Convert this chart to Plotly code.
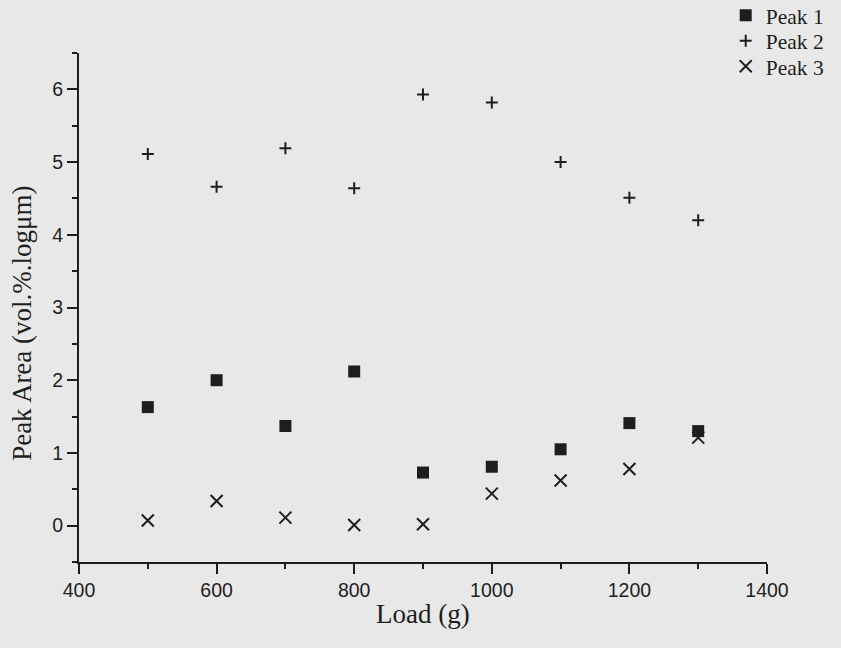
import plotly.graph_objects as go

# Applied load (g)
load = [500, 600, 700, 800, 900, 1000, 1100, 1200, 1300]

# Peak areas (vol.%.log µm) for the three fitted peaks
peak1 = [1.63, 2.00, 1.37, 2.12, 0.73, 0.81, 1.05, 1.41, 1.30]
peak2 = [5.11, 4.66, 5.19, 4.64, 5.93, 5.82, 5.00, 4.51, 4.20]
peak3 = [0.07, 0.34, 0.11, 0.01, 0.02, 0.44, 0.62, 0.78, 1.21]

x_ticks = [400, 600, 800, 1000, 1200, 1400]
y_ticks = [0, 1, 2, 3, 4, 5, 6]

ink = "#1e1e1e"
bg = "#e8e8e8"
serif = "Liberation Serif, Times New Roman, serif"
sans = "Liberation Sans, Arial, sans-serif"

fig = go.Figure()

fig.add_trace(go.Scatter(
    x=load, y=peak1, mode="markers", name="Peak 1", legend="legend",
    marker=dict(symbol="square", size=12, color=ink, line=dict(width=0)),
    cliponaxis=False,
))
fig.add_trace(go.Scatter(
    x=load, y=peak2, mode="markers", name="Peak 2", legend="legend2",
    marker=dict(symbol="cross-thin", size=8.5, color=ink,
                line=dict(width=2, color=ink)),
    cliponaxis=False,
))
fig.add_trace(go.Scatter(
    x=load, y=peak3, mode="markers", name="Peak 3", legend="legend3",
    marker=dict(symbol="x-thin", size=12, color=ink,
                line=dict(width=2, color=ink)),
    cliponaxis=False,
))

legend_style = dict(
    xanchor="left", yanchor="middle", x=0.94,
    bgcolor="rgba(0,0,0,0)", borderwidth=0,
    font=dict(family=serif, size=21.5, color=ink),
)

fig.update_layout(
    width=841, height=648,
    margin=dict(l=79, r=74, t=53, b=86, autoexpand=False),
    paper_bgcolor=bg, plot_bgcolor=bg,
    showlegend=True,
    legend=dict(legend_style, y=1.074),
    legend2=dict(legend_style, y=1.024),
    legend3=dict(legend_style, y=0.974),
    xaxis=dict(
        range=[400, 1400], tickvals=x_ticks, ticktext=[str(v) for v in x_ticks],
        showgrid=False, zeroline=False,
        showline=True, linecolor=ink, linewidth=2,
        ticks="outside", ticklen=10, tickwidth=2, tickcolor=ink,
        minor=dict(dtick=100, tick0=400, ticks="outside", ticklen=5,
                   tickwidth=2, tickcolor=ink),
        tickfont=dict(family=sans, size=19.5, color=ink),
    ),
    yaxis=dict(
        range=[-0.5, 6.5], tickvals=y_ticks, ticktext=[str(v) for v in y_ticks],
        showgrid=False, zeroline=False,
        showline=True, linecolor=ink, linewidth=2,
        ticks="outside", ticklen=10, tickwidth=2, tickcolor=ink,
        minor=dict(dtick=0.5, tick0=0, ticks="outside", ticklen=5,
                   tickwidth=2, tickcolor=ink),
        tickfont=dict(family=sans, size=19.5, color=ink),
    ),
    annotations=[
        dict(
            text="Load (g)",
            xref="paper", yref="paper", x=0.5, y=-0.102,
            xanchor="center", yanchor="middle", showarrow=False,
            font=dict(family=serif, size=27, color=ink),
        ),
        dict(
            text="Peak Area (vol.%.logμm)", textangle=-90,
            xref="paper", yref="paper", x=-0.082, y=0.469,
            xanchor="center", yanchor="middle", showarrow=False,
            font=dict(family=serif, size=27, color=ink),
        ),
    ],
)

fig.write_html("out.html")
